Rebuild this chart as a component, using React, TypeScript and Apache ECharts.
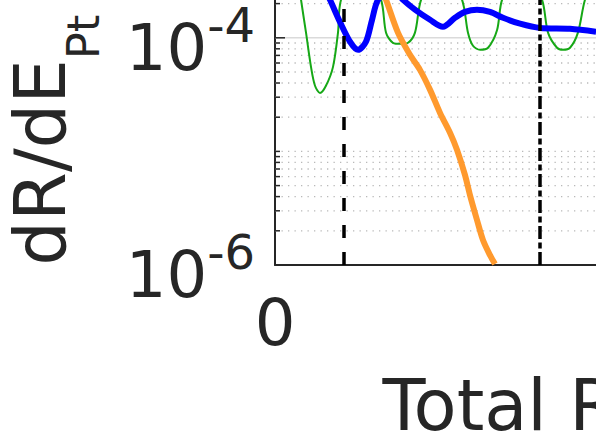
import React, { useEffect, useRef } from 'react';
import * as echarts from 'echarts';

const FONT = 'DejaVu Sans, sans-serif';
const INK = '#262626';

// Axis texts and ticks
const xAxisTitle = 'Total Recoil Energy [keV]';
const yTitleMain = 'dR/dE';
const yTitleSub = 'Pt';
const xMin = 0;
const xMax = 80;
const xTickInterval = 80;
const yMin = 1e-6;
const yMax = 1e-3;
const yLabelExponents = [-6, -4];

// Vertical reference lines (keV)
const thresholdDashed = 5.0;
const thresholdDashDot = 19.1;

// Grid levels of the log axis
const majorLevels = [1e-4];
const minorLevels = [
  2e-6, 3e-6, 4e-6, 5e-6, 6e-6, 7e-6, 8e-6, 9e-6,
  1e-5, 2e-5, 3e-5, 4e-5, 5e-5, 6e-5, 7e-5, 8e-5, 9e-5,
  2e-4, 3e-4, 4e-4, 5e-4, 6e-4, 7e-4, 8e-4, 9e-4,
];

// Green (thin, oscillating)
const greenX = [1.59, 1.88, 2.24, 2.60, 2.89, 3.25, 3.68, 4.19, 4.55, 4.77, 6.21, 7.66, 8.02, 8.52, 9.10, 9.61, 10.11, 10.55, 11.99, 13.51, 13.94, 14.30, 14.81, 15.39, 16.04, 16.40, 17.84, 19.29, 19.72, 20.37, 20.80, 21.31, 21.88, 22.39, 23.47];
const greenY = [3.97e-4, 2.16e-4, 1.11e-4, 5.55e-5, 3.78e-5, 3.27e-5, 3.78e-5, 5.55e-5, 1.11e-4, 2.16e-4, 4.86e-4, 2.16e-4, 1.11e-4, 9.04e-5, 8.85e-5, 9.04e-5, 1.11e-4, 2.16e-4, 4.86e-4, 2.16e-4, 1.11e-4, 8.51e-5, 7.84e-5, 8.17e-5, 1.17e-4, 2.16e-4, 4.86e-4, 2.16e-4, 1.11e-4, 8.17e-5, 7.84e-5, 8.17e-5, 1.11e-4, 2.16e-4, 4.86e-4];

// Blue (thick)
const blueX = [3.25, 3.97, 4.69, 5.42, 6.00, 6.57, 7.01, 7.44, 8.38, 9.25, 10.11, 11.20, 12.13, 13.00, 13.72, 14.59, 15.53, 16.47, 17.70, 19.14, 21.31, 23.19];
const blueY = [3.24e-4, 2.16e-4, 1.38e-4, 9.23e-5, 7.84e-5, 9.23e-5, 1.44e-4, 2.16e-4, 2.76e-4, 2.16e-4, 1.77e-4, 1.44e-4, 1.25e-4, 1.50e-4, 1.69e-4, 1.77e-4, 1.69e-4, 1.50e-4, 1.33e-4, 1.22e-4, 1.20e-4, 1.13e-4];

// Orange (thick, falling)
const orangeX = [7.44, 8.02, 8.88, 9.75, 10.47, 11.20, 11.92, 12.64, 13.15, 13.72, 14.08, 14.59, 15.02, 15.53, 15.89];
const orangeY = [3.24e-4, 2.16e-4, 1.11e-4, 7.08e-5, 5.22e-5, 3.48e-5, 2.18e-5, 1.46e-5, 1.03e-5, 6.21e-6, 4.14e-6, 2.49e-6, 1.66e-6, 1.22e-6, 1.02e-6];

const pairs = (xs: number[], ys: number[]) => xs.map((x, i) => [x, ys[i]]);

export default function App() {
  const ref = useRef<HTMLDivElement>(null);

  useEffect(() => {
    if (!ref.current) return;
    const chart = echarts.init(ref.current, null, { renderer: 'svg' });

    const gridData = [
      ...majorLevels.map((v) => [xMin, v, 1]),
      ...minorLevels.map((v) => [xMin, v, 0]),
    ];

    chart.setOption({
      animation: false,
      backgroundColor: '#ffffff',
      textStyle: { fontFamily: FONT, color: INK },
      grid: {
        left: 275,
        right: 117.4,
        top: 24.2,
        bottom: 182,
        containLabel: false,
        outerBoundsMode: 'none',
      },
      xAxis: {
        type: 'value',
        min: xMin,
        max: xMax,
        interval: xTickInterval,
        name: xAxisTitle,
        nameLocation: 'middle',
        nameGap: 105.4,
        nameMoveOverlap: false,
        nameTextStyle: { fontSize: 70.4, lineHeight: 70.4, color: INK, fontFamily: FONT, padding: [0, 20, 0, 0] },
        axisLine: { show: true, onZero: false, lineStyle: { color: INK, width: 2 } },
        axisTick: { show: true, inside: true, length: 10, lineStyle: { color: INK, width: 1.5 } },
        axisLabel: { fontSize: 64, lineHeight: 64, margin: 26, color: INK, fontFamily: FONT, showMaxLabel: false },
        splitLine: { show: false },
      },
      yAxis: {
        type: 'log',
        logBase: 10,
        min: yMin,
        max: yMax,
        name: `{m|${yTitleMain}}{s|${yTitleSub}}`,
        nameLocation: 'middle',
        nameGap: 168.6,
        nameMoveOverlap: false,
        nameTextStyle: {
          color: INK,
          fontFamily: FONT,
          padding: [0, 91, 0, 0],
          rich: {
            m: { fontSize: 70.4, lineHeight: 100.5, verticalAlign: 'top', color: INK, fontFamily: FONT },
            s: { fontSize: 45, lineHeight: 100.5, verticalAlign: 'top', padding: [55.5, 0, 0, 0], color: INK, fontFamily: FONT },
          },
        },
        axisLine: { show: true, lineStyle: { color: INK, width: 2 } },
        axisTick: { show: false },
        splitLine: { show: false },
        minorTick: { show: false },
        minorSplitLine: { show: false },
        axisLabel: {
          margin: 20,
          color: INK,
          fontFamily: FONT,
          formatter: (value: number) => {
            const l = Math.log10(value);
            const e = Math.round(l);
            if (Math.abs(l - e) > 0.01 || yLabelExponents.indexOf(e) < 0) return '';
            return `{b|10}{s|${e}}`;
          },
          rich: {
            b: { fontSize: 64, lineHeight: 74, verticalAlign: 'top', padding: [15, 0, 0, 0], color: INK, fontFamily: FONT },
            s: { fontSize: 48, lineHeight: 74, verticalAlign: 'top', padding: [0, 0, 0, 0], color: INK, fontFamily: FONT },
          },
        },
      },
      series: [
        {
          type: 'custom',
          name: 'grid',
          silent: true,
          z: 1,
          clip: true,
          data: gridData,
          renderItem: (params: any, api: any) => {
            const v = api.value(1);
            const major = api.value(2) === 1;
            const cs = params.coordSys;
            const y = api.coord([xMin, v])[1];
            return {
              type: 'group',
              children: [
                {
                  type: 'line',
                  shape: { x1: cs.x, y1: y, x2: cs.x + cs.width, y2: y },
                  style: major
                    ? { stroke: '#dadada', lineWidth: 1.5 }
                    : { stroke: '#b9b9b9', lineWidth: 1.3, lineDash: [1.3, 5.2] },
                },
                {
                  type: 'line',
                  shape: { x1: cs.x, y1: y, x2: cs.x + (major ? 10 : 5), y2: y },
                  style: { stroke: INK, lineWidth: 1.5 },
                },
              ],
            };
          },
        },
        {
          type: 'line',
          name: 'green',
          data: pairs(greenX, greenY),
          showSymbol: false,
          smooth: 0.3,
          z: 2,
          lineStyle: { color: '#16a816', width: 2 },
          markLine: {
            silent: true,
            symbol: ['none', 'none'],
            label: { show: false },
            data: [
              { xAxis: thresholdDashed, lineStyle: { color: '#000000', width: 3.5, type: [13, 14] } },
              { xAxis: thresholdDashDot, lineStyle: { color: '#000000', width: 3.5, type: [13, 3.5, 6, 3.5] } },
            ],
          },
        },
        {
          type: 'line',
          name: 'blue',
          data: pairs(blueX, blueY),
          showSymbol: false,
          smooth: 0.3,
          z: 3,
          lineStyle: { color: '#0000ff', width: 6 },
        },
        {
          type: 'line',
          name: 'orange',
          data: pairs(orangeX, orangeY),
          showSymbol: false,
          smooth: 0.3,
          z: 4,
          lineStyle: { color: '#ff9a2e', width: 6 },
        },
      ],
    });

    return () => chart.dispose();
  }, []);

  return (
    <div style={{ position: 'fixed', left: 0, top: 0, width: 596, height: 447, overflow: 'hidden', background: '#ffffff' }}>
      <div ref={ref} style={{ position: 'absolute', left: 0, top: -100, width: 1500, height: 547 }} />
    </div>
  );
}
